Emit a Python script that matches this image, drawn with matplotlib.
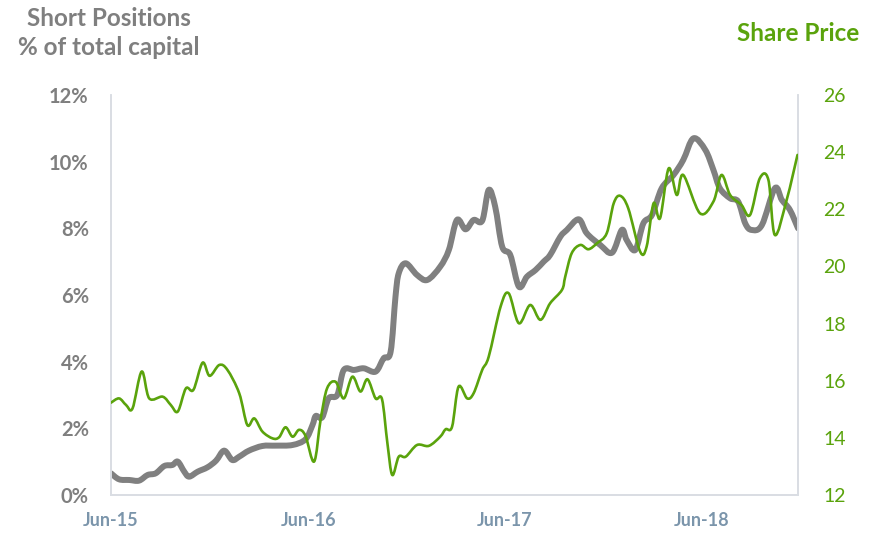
import numpy as np
import pandas as pd
import matplotlib.pyplot as plt
import matplotlib.dates as mdates
from matplotlib.path import Path
from matplotlib.patches import PathPatch
from matplotlib.ticker import FuncFormatter, MultipleLocator

plt.rcParams["font.family"] = ["Lato", "DejaVu Sans"]

# short positions, % of total capital
short_dates = [
    "2015-06-01", "2015-06-16", "2015-07-05", "2015-07-23", "2015-08-08", "2015-08-23",
    "2015-09-08", "2015-09-23", "2015-10-03", "2015-10-15", "2015-10-24", "2015-11-09",
    "2015-11-27", "2015-12-13", "2015-12-28", "2016-01-12", "2016-01-25", "2016-02-12",
    "2016-03-08", "2016-04-02", "2016-05-03", "2016-05-27", "2016-06-09", "2016-06-15",
    "2016-06-27", "2016-07-09", "2016-07-25", "2016-08-06", "2016-08-25", "2016-09-12",
    "2016-10-04", "2016-10-19", "2016-11-01", "2016-11-10", "2016-11-16", "2016-11-29",
    "2016-12-20", "2017-01-08", "2017-02-01", "2017-02-17", "2017-03-04", "2017-03-20",
    "2017-04-04", "2017-04-20", "2017-05-02", "2017-05-14", "2017-05-27", "2017-06-11",
    "2017-06-27", "2017-07-12", "2017-07-28", "2017-08-12", "2017-08-24", "2017-09-12",
    "2017-09-24", "2017-10-16", "2017-10-31", "2017-11-25", "2017-12-17", "2018-01-04",
    "2018-01-13", "2018-01-29", "2018-02-13", "2018-03-01", "2018-03-19", "2018-04-10",
    "2018-04-28", "2018-05-17", "2018-06-08", "2018-06-23", "2018-07-05", "2018-07-24",
    "2018-08-08", "2018-08-21", "2018-09-02", "2018-09-21", "2018-10-15", "2018-10-28",
    "2018-11-12", "2018-11-27",
]
short_pct = [
    0.65, 0.47, 0.45, 0.43, 0.60, 0.65, 0.87, 0.90, 1.00, 0.70,
    0.55, 0.70, 0.83, 1.03, 1.33, 1.05, 1.15, 1.33, 1.47, 1.48,
    1.50, 1.67, 2.10, 2.37, 2.33, 2.90, 3.00, 3.75, 3.75, 3.80,
    3.70, 4.10, 4.30, 5.95, 6.65, 6.95, 6.60, 6.45, 6.85, 7.35,
    8.25, 7.97, 8.25, 8.23, 9.15, 8.65, 7.45, 7.20, 6.25, 6.55,
    6.75, 7.00, 7.20, 7.75, 7.95, 8.27, 7.85, 7.50, 7.27, 7.95,
    7.65, 7.35, 8.15, 8.40, 9.20, 9.60, 10.05, 10.70, 10.35, 9.75,
    9.20, 8.90, 8.80, 8.15, 7.95, 8.10, 9.20, 8.85, 8.55, 8.00,
]

# share price
price_dates = [
    "2015-06-01", "2015-06-16", "2015-06-29", "2015-07-11", "2015-07-28", "2015-08-11",
    "2015-09-05", "2015-09-20", "2015-10-03", "2015-10-18", "2015-11-01", "2015-11-18",
    "2015-12-01", "2015-12-19", "2016-01-03", "2016-01-25", "2016-02-09", "2016-02-22",
    "2016-03-08", "2016-03-27", "2016-04-08", "2016-04-20", "2016-05-03", "2016-05-15",
    "2016-05-27", "2016-06-12", "2016-06-24", "2016-07-06", "2016-07-22", "2016-08-06",
    "2016-08-22", "2016-09-06", "2016-09-19", "2016-10-04", "2016-10-16", "2016-10-26",
    "2016-11-04", "2016-11-16", "2016-11-29", "2016-12-20", "2017-01-11", "2017-02-01",
    "2017-02-11", "2017-02-23", "2017-03-07", "2017-03-23", "2017-04-04", "2017-04-20",
    "2017-05-02", "2017-05-24", "2017-06-08", "2017-06-27", "2017-07-18", "2017-08-06",
    "2017-08-24", "2017-09-15", "2017-09-21", "2017-10-03", "2017-10-19", "2017-11-03",
    "2017-11-19", "2017-12-07", "2017-12-20", "2018-01-01", "2018-01-16", "2018-02-07",
    "2018-02-19", "2018-03-04", "2018-03-16", "2018-04-01", "2018-04-16", "2018-04-28",
    "2018-05-29", "2018-06-23", "2018-07-08", "2018-07-24", "2018-08-14", "2018-08-30",
    "2018-09-17", "2018-10-03", "2018-10-15", "2018-11-06", "2018-11-26",
]
price = [
    15.23, 15.38, 15.15, 15.03, 16.32, 15.38, 15.44, 15.15, 14.92, 15.73,
    15.68, 16.63, 16.17, 16.55, 16.38, 15.56, 14.45, 14.68, 14.22, 13.98,
    14.02, 14.37, 14.04, 14.28, 14.07, 13.17, 14.63, 15.73, 15.96, 15.38,
    16.14, 15.62, 16.05, 15.38, 15.35, 13.81, 12.70, 13.34, 13.34, 13.75,
    13.72, 14.04, 14.30, 14.39, 15.79, 15.38, 15.56, 16.38, 16.84, 18.59,
    19.06, 18.01, 18.65, 18.13, 18.71, 19.18, 19.64, 20.46, 20.75, 20.60,
    20.81, 21.16, 22.21, 22.47, 22.03, 20.52, 20.69, 22.21, 21.69, 23.43,
    22.50, 23.20, 21.86, 22.27, 23.20, 22.50, 22.15, 21.80, 23.08, 23.03,
    21.10, 22.33, 23.90,
]

tick_dates = ["2015-06-01", "2016-06-01", "2017-06-01", "2018-06-01"]

GREY = "#808080"
GREEN = "#5aa30c"
AXIS_GREY = "#7f7f7f"
DATE_BLUE = "#7b95ab"
SPINE = "#d9dde3"


def smooth_line(ax, dates, values, **kw):
    # Catmull-Rom style bezier through every point (like a spreadsheet "smoothed line")
    x = mdates.date2num(pd.to_datetime(dates))
    y = np.asarray(values, dtype=float)
    p = np.column_stack([x, y])
    pad = np.vstack([p[0], p, p[-1]])
    verts = [p[0]]
    codes = [Path.MOVETO]
    for i in range(len(p) - 1):
        p0, p1, p2, p3 = pad[i], pad[i + 1], pad[i + 2], pad[i + 3]
        verts += [p1 + (p2 - p0) / 6, p2 - (p3 - p1) / 6, p2]
        codes += [Path.CURVE4] * 3
    patch = PathPatch(Path(verts, codes), facecolor="none", edgecolor=kw["color"],
                      lw=kw["lw"], joinstyle="round", capstyle="round",
                      zorder=kw.get("zorder", 2))
    ax.add_patch(patch)


fig = plt.figure(figsize=(8.78, 5.35), dpi=100)
ax = fig.add_axes([0.1264, 0.0748, 0.7825, 0.7477])
ax2 = ax.twinx()

smooth_line(ax, short_dates, short_pct, color=GREY, lw=4.3, zorder=2)
smooth_line(ax2, price_dates, price, color=GREEN, lw=1.9, zorder=3)

ax.set_xlim(mdates.date2num(pd.Timestamp("2015-06-01")),
            mdates.date2num(pd.Timestamp("2018-11-27")))
ax.set_ylim(0, 12)
ax2.set_ylim(12, 26)

ax.yaxis.set_major_locator(MultipleLocator(2))
ax.yaxis.set_major_formatter(FuncFormatter(lambda v, p: f"{v:.0f}%"))
ax2.yaxis.set_major_locator(MultipleLocator(2))

ax.set_xticks(mdates.date2num(pd.to_datetime(tick_dates)))
ax.xaxis.set_major_formatter(mdates.DateFormatter("%b-%y"))

ax.tick_params(axis="y", length=0, pad=16, labelsize=14.5, labelcolor=AXIS_GREY)
ax.tick_params(axis="x", length=0, pad=12, labelsize=13, labelcolor=DATE_BLUE)
ax2.tick_params(axis="y", length=0, pad=18, labelsize=14, labelcolor=GREEN)
for lbl in ax.get_yticklabels() + ax.get_xticklabels():
    lbl.set_fontweight("bold")

for a in (ax, ax2):
    a.spines["top"].set_visible(False)
    for s in ("left", "right", "bottom"):
        a.spines[s].set_color(SPINE)
        a.spines[s].set_linewidth(1.2)
ax.patch.set_visible(False)

fig.text(0.124, 0.966, "Short Positions", ha="center", va="center",
         fontsize=17.5, fontweight="bold", color=AXIS_GREY)
fig.text(0.124, 0.911, "% of total capital", ha="center", va="center",
         fontsize=17.5, fontweight="bold", color=AXIS_GREY)
fig.text(0.909, 0.938, "Share Price", ha="center", va="center",
         fontsize=17.5, fontweight="bold", color=GREEN)

fig.savefig("out.png", dpi=100)
